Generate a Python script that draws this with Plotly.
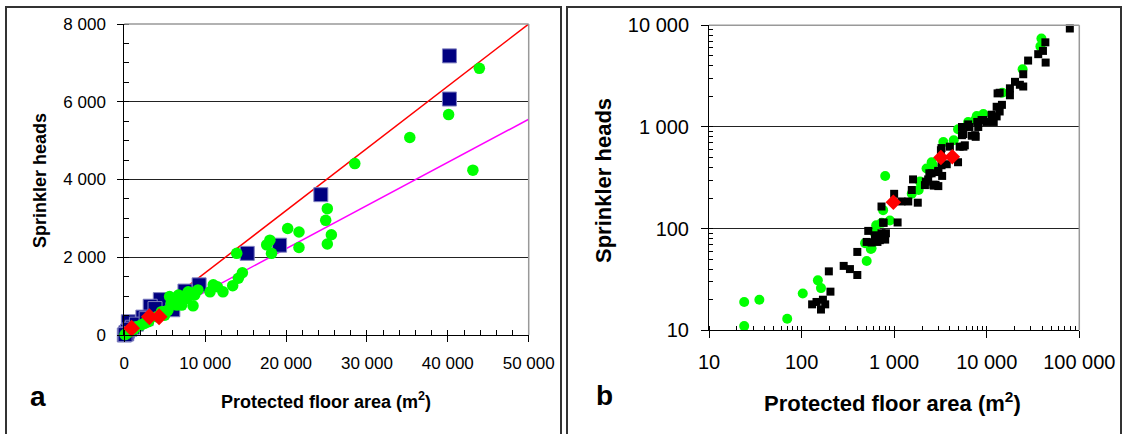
import plotly.graph_objects as go

W, H = 1123, 434

# ---------------- Panel a (linear) data ----------------
a_navy_x = [40200, 40200, 24300, 15200, 19200, 9250, 7500, 4450, 3200, 6000, 2300, 500, 1000,
            1500, 0, 200, 400, 700, 300, 100, 2700, 3800]
a_navy_y = [7180, 6070, 3610, 2100, 2310, 1290, 1130, 910, 740, 650, 460, 340, 200,
            280, 0, 60, 100, 150, 30, 10, 420, 680]

a_green_x = [43900, 40100, 35300, 28500, 43100, 25100, 24900, 25600, 25100, 20200, 21600, 21600,
             17600, 18000, 18200, 13900, 14600, 14100, 13400, 12200, 11500, 11000, 10600, 9100,
             8700, 7700, 7900, 6700, 5600, 6500, 5400, 5000, 4000, 3000, 2100, 1500, 300, 100,
             6200, 5800, 7300, 8300, 7100, 8500, 6400, 4600, 2500, 1200, 700]
a_green_y = [6860, 5670, 5080, 4410, 4240, 3250, 2950, 2580, 2340, 2740, 2650, 2250,
             2320, 2440, 2100, 2100, 1600, 1460, 1270, 1110, 1240, 1290, 1110, 1160,
             1030, 940, 1110, 1030, 990, 770, 640, 510, 470, 340, 260, 210, 40, 10,
             880, 820, 1000, 1080, 770, 750, 930, 600, 300, 150, 90]

a_red_x = [900, 3100, 4300]
a_red_y = [175, 470, 470]

fit_x = [0, 50000]
fit_red_y = [0, 8000]
fit_magenta_y = [0, 5550]

# ---------------- Panel b (log) data ----------------
b_black_x = [130, 145, 170, 180, 162, 197, 205, 285, 333, 400, 400, 525, 620, 570, 505, 660, 700,
             800, 730, 760, 1090, 730, 1000, 1200, 1420, 1800, 1550, 1600, 2200, 2150, 2400, 2650,
             2800, 3000, 2330, 2540, 3000, 3300, 3700, 3250, 3250, 4900, 4000, 5100, 5600, 5800,
             5400, 6900, 7500, 5400, 6300, 8100, 8800, 9200, 9900, 11900, 11300, 12800, 13800,
             14600, 12800, 13100, 13800, 17800, 17800, 20200, 22800, 24800, 24800, 28000, 36000,
             40500, 43300, 43000, 79000, 2990, 2680, 5600, 7600, 7900, 6500, 815, 770, 3200]
b_black_y = [18, 19, 20, 18, 16, 38, 24, 43, 40, 35, 59, 95, 86, 73, 74, 74, 77,
             78, 90, 115, 115, 165, 220, 185, 185, 180, 240, 305, 290, 268, 350, 270,
             270, 262, 305, 350, 360, 330, 430, 420, 620, 450, 640, 640, 640, 660,
             830, 820, 830, 1000, 1060, 1000, 1170, 1170, 1120, 1120, 1320, 1270, 1420,
             1650, 1580, 2140, 2170, 2050, 2400, 2780, 2600, 2500, 3300, 4500, 5200,
             5600, 4300, 6800, 9300, 370, 265, 850, 800, 1120, 1000, 90, 114, 590]

b_green_x = [24, 24, 35, 70, 103, 150, 162, 485, 505, 570, 620, 640, 760, 800, 900, 735, 1550,
             1900, 1840, 2240, 2540, 2600, 3400, 4400, 4900, 6300, 7500, 7800, 9200, 14700,
             24400, 38000, 39000, 560]
b_green_y = [19, 11, 20, 13, 23, 31, 26, 72, 48, 64, 90, 108, 152, 330, 120, 114, 220,
             290, 240, 390, 450, 420, 710, 740, 950, 1120, 1170, 1280, 1340, 2170,
             3700, 6200, 7400, 63]

b_red_x = [980, 3200, 4250]
b_red_y = [182, 500, 510]

# ---------------- helpers ----------------
def px(x):
    return x / W

def py(y):
    return 1 - y / H

FONT = "Arial, Liberation Sans, sans-serif"

fig = go.Figure()

# Panel a traces
fig.add_trace(go.Scatter(x=fit_x, y=fit_red_y, mode="lines", line=dict(color="#FF0000", width=1.5),
                         xaxis="x", yaxis="y", showlegend=False, hoverinfo="skip"))
fig.add_trace(go.Scatter(x=fit_x, y=fit_magenta_y, mode="lines", line=dict(color="#FF00FF", width=1.5),
                         xaxis="x", yaxis="y", showlegend=False, hoverinfo="skip"))
fig.add_trace(go.Scatter(x=a_navy_x, y=a_navy_y, mode="markers", cliponaxis=False,
                         marker=dict(symbol="square", size=14, color="#000080",
                                     line=dict(color="#7f7fbf", width=1)),
                         xaxis="x", yaxis="y", showlegend=False))
fig.add_trace(go.Scatter(x=a_green_x, y=a_green_y, mode="markers", cliponaxis=False,
                         marker=dict(symbol="circle", size=11.5, color="#00FF00", line=dict(width=0)),
                         xaxis="x", yaxis="y", showlegend=False))
fig.add_trace(go.Scatter(x=a_red_x, y=a_red_y, mode="markers", cliponaxis=False,
                         marker=dict(symbol="diamond", size=13, color="#FF0000", line=dict(width=0)),
                         xaxis="x", yaxis="y", showlegend=False))

# Panel b traces
fig.add_trace(go.Scatter(x=b_green_x, y=b_green_y, mode="markers", cliponaxis=False,
                         marker=dict(symbol="circle", size=10, color="#00FF00", line=dict(width=0)),
                         xaxis="x2", yaxis="y2", showlegend=False))
fig.add_trace(go.Scatter(x=b_black_x, y=b_black_y, mode="markers", cliponaxis=False,
                         marker=dict(symbol="square", size=8, color="#000000", line=dict(width=0)),
                         xaxis="x2", yaxis="y2", showlegend=False))
fig.add_trace(go.Scatter(x=b_red_x, y=b_red_y, mode="markers", cliponaxis=False,
                         marker=dict(symbol="diamond", size=12, color="#FF0000", line=dict(width=0)),
                         xaxis="x2", yaxis="y2", showlegend=False))

grid_col = "#222222"

fig.update_layout(
    width=W, height=H,
    margin=dict(l=0, r=0, t=0, b=0, pad=0, autoexpand=False),
    paper_bgcolor="white", plot_bgcolor="white",
    separators=". ",
    font=dict(family=FONT, color="black"),
    xaxis=dict(domain=[px(124.3), px(528.7)], range=[0, 50000], dtick=10000, tickformat=",",
               automargin=False,
               showgrid=False, zeroline=False, showline=True, linecolor="black", linewidth=1,
               ticks="outside", ticklen=6, tickcolor="black", tickfont=dict(size=17, family=FONT),
               ticklabelstandoff=7,
               minor=dict(dtick=2000, ticks="inside", ticklen=5, tickcolor="black", showgrid=False),
               anchor="y"),
    yaxis=dict(domain=[py(335), py(24)], range=[0, 8000], dtick=2000, tickformat=",",
               automargin=False,
               showgrid=True, gridcolor=grid_col, gridwidth=1, zeroline=False,
               showline=True, linecolor="black", linewidth=1,
               ticks="outside", ticklen=6, tickcolor="black", tickfont=dict(size=17, family=FONT),
               ticklabelstandoff=8,
               minor=dict(dtick=500, ticks="inside", ticklen=5, tickcolor="black", showgrid=False),
               anchor="x"),
    xaxis2=dict(domain=[px(709), px(1079.3)], type="log", range=[1, 5], dtick=1, tickformat=",",
                automargin=False,
                showgrid=False, zeroline=False, showline=True, linecolor="black", linewidth=1,
                ticks="outside", ticklen=7, tickcolor="black", tickfont=dict(size=20, family=FONT),
                ticklabelstandoff=7,
                minor=dict(dtick="D1", ticks="inside", ticklen=4, tickcolor="black", showgrid=False),
                anchor="y2"),
    yaxis2=dict(domain=[py(330.3), py(25.3)], type="log", range=[1, 4], dtick=1, tickformat=",",
                automargin=False,
                showgrid=True, gridcolor=grid_col, gridwidth=1, zeroline=False,
                showline=True, linecolor="black", linewidth=1,
                ticks="outside", ticklen=7, tickcolor="black", tickfont=dict(size=20, family=FONT),
                ticklabelstandoff=8,
                minor=dict(dtick="D1", ticks="inside", ticklen=4, tickcolor="black", showgrid=False),
                anchor="x2"),
)

shapes = [
    # panel frames
    dict(type="rect", xref="paper", yref="paper", x0=px(6), x1=px(561), y0=py(440), y1=py(7),
         line=dict(color="#333333", width=2), layer="below"),
    dict(type="rect", xref="paper", yref="paper", x0=px(567), x1=px(1121), y0=py(440), y1=py(7),
         line=dict(color="#333333", width=2), layer="below"),
    # gray plot-area borders (top & right)
    dict(type="line", xref="x domain", yref="y domain", x0=0, x1=1, y0=1, y1=1,
         line=dict(color="#999999", width=1.5), layer="above"),
    dict(type="line", xref="x domain", yref="y domain", x0=1, x1=1, y0=0, y1=1,
         line=dict(color="#999999", width=1.5), layer="above"),
    dict(type="line", xref="x2 domain", yref="y2 domain", x0=0, x1=1, y0=1, y1=1,
         line=dict(color="#999999", width=1.5), layer="above"),
    dict(type="line", xref="x2 domain", yref="y2 domain", x0=1, x1=1, y0=0, y1=1,
         line=dict(color="#999999", width=1.5), layer="above"),
]
fig.update_layout(shapes=shapes)

def ann(text, x, y, size, angle=0):
    return dict(text=text, x=px(x), y=py(y), xref="paper", yref="paper", xanchor="center",
                yanchor="middle", textangle=angle, showarrow=False,
                font=dict(size=size, family=FONT, color="black"))

annotations = [
    ann("<b>Sprinkler heads</b>", 40, 181, 18, -90),
    ann("<b>Protected floor area (m<sup>2</sup>)</b>", 326, 400, 18),
    ann("<b>a</b>", 38, 396, 28),
    ann("<b>Sprinkler heads</b>", 603, 181, 22, -90),
    ann("<b>Protected floor area (m<sup>2</sup>)</b>", 892, 402, 22),
    ann("<b>b</b>", 604, 395, 28),
]
fig.update_layout(annotations=annotations)

fig.write_html("out.html")
